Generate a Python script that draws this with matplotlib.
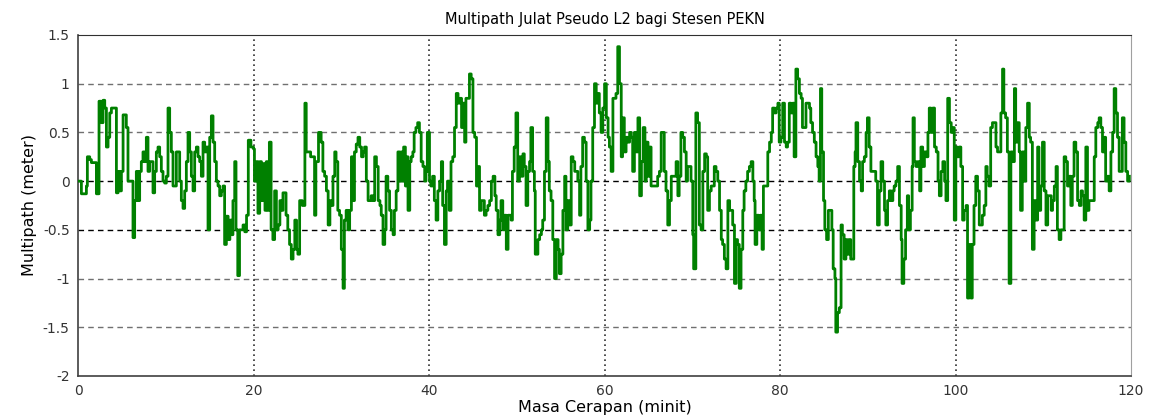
import numpy as np
import matplotlib
matplotlib.use("Agg")
import matplotlib.pyplot as plt
from matplotlib.ticker import FixedLocator, FuncFormatter

# epochs (minit) and multipath values (meter)
minit = [
    0.0, 0.38, 0.95, 1.06, 1.33, 1.52, 2.09, 2.39, 2.66, 2.85, 3.04, 3.23, 3.42, 3.61, 3.8, 4.37, 4.56, 4.75, 4.94,
    5.13, 5.5, 5.69, 6.26, 6.45, 6.64, 6.83, 7.02, 7.21, 7.4, 7.59, 7.78, 7.97, 8.16, 8.54, 8.73, 8.92, 9.11, 9.3,
    9.49, 9.68, 9.87, 10.06, 10.25, 10.44, 10.63, 10.82, 11.2, 11.58, 11.77, 11.96, 12.15, 12.34, 12.53, 12.72,
    12.91, 13.1, 13.29, 13.48, 13.67, 13.86, 14.05, 14.24, 14.43, 14.62, 14.81, 15.0, 15.19, 15.38, 15.57, 15.76,
    15.95, 16.14, 16.33, 16.52, 16.7, 16.9, 17.1, 17.3, 17.5, 17.65, 17.85, 18.0, 18.2, 18.4, 18.8, 19.0, 19.2,
    19.4, 19.7, 20.0, 20.1, 20.3, 20.5, 20.7, 20.9, 21.1, 21.3, 21.45, 21.6, 21.8, 22.0, 22.2, 22.4, 22.6, 22.8,
    23.0, 23.2, 23.35, 23.7, 23.9, 24.1, 24.3, 24.5, 24.7, 24.9, 25.05,
    25.25, 25.55, 25.85, 26.0, 26.5, 26.95, 27.1, 27.4, 27.7, 27.9, 28.1, 28.3, 28.5, 28.7, 28.85, 29.05, 29.25,
    29.4, 29.6, 29.8, 30.0, 30.2, 30.35, 30.55, 30.75, 30.95, 31.15, 31.3, 31.5, 31.7, 31.9, 32.1, 32.3, 32.5,
    32.65, 32.85, 33.05, 33.4, 33.6, 33.8, 34.0, 34.2, 34.4, 34.55, 34.75, 34.95, 35.1, 35.3, 35.5, 35.7, 35.9,
    36.05, 36.25, 36.45, 36.65,
    36.82, 37.0, 37.1, 37.3, 37.4, 37.6, 37.8, 37.96, 38.15, 38.3, 38.5, 38.7, 38.9, 39.1, 39.3, 39.5, 39.65, 39.8,
    40.05, 40.2, 40.4, 40.6, 40.8, 41.0, 41.2, 41.4, 41.55, 41.75, 41.95, 42.1, 42.3, 42.5, 42.7, 42.9, 43.1, 43.3,
    43.5, 43.7, 43.85, 44.05, 44.2, 44.4, 44.6, 44.8, 45.0, 45.2, 45.4, 45.6, 45.75, 45.95, 46.3, 46.5, 46.7, 46.9,
    47.1, 47.3, 47.5, 47.65, 47.85, 48.05, 48.2, 48.4, 48.6, 48.8, 49.0, 49.35,
    49.5, 49.7, 49.9, 50.1, 50.3, 50.5, 50.7, 50.85, 51.05, 51.25, 51.45, 51.6, 51.8, 52.0, 52.1, 52.4, 52.6, 52.8,
    52.95, 53.15, 53.35, 53.55, 53.7, 53.9, 54.1, 54.3, 54.5, 54.7, 54.85, 55.05, 55.25, 55.45, 55.6, 55.8, 56.0,
    56.2, 56.4, 56.6, 56.95, 57.15, 57.3, 57.5, 57.7, 57.9, 58.1, 58.3, 58.45, 58.65, 58.85, 59.05, 59.25, 59.4,
    59.6, 59.8, 60.0, 60.2, 60.4, 60.55, 60.75, 60.95, 61.3, 61.5, 61.7,
    61.9, 62.05, 62.25, 62.45, 62.65, 62.85, 63.05, 63.2, 63.4, 63.6, 63.8, 64.0, 64.2, 64.4, 64.6, 64.75, 64.95,
    65.15, 65.3, 66.05, 66.25, 66.45, 66.8, 67.0, 67.2, 67.4, 67.6, 68.15, 68.35, 68.5, 68.7, 68.9, 69.1, 69.3,
    69.45, 69.85, 70.05, 70.15, 70.4, 70.6, 70.8, 71.0, 71.2, 71.4, 71.6, 71.75, 71.95, 72.15, 72.5, 72.7, 72.9,
    73.1, 73.3, 73.45, 73.65, 73.85, 74.05, 74.25,
    74.6, 74.8, 75.0, 75.15, 75.35, 75.55, 75.75, 75.9, 76.1, 76.3, 76.5, 76.7, 76.9, 77.05, 77.15, 77.35, 77.55,
    77.75, 77.95, 78.1, 78.6, 78.8, 79.0, 79.15, 79.35, 79.55, 79.75, 79.9, 80.1, 80.3, 80.5, 80.7, 80.85, 81.05,
    81.25, 81.45, 81.6, 81.8, 82.0, 82.2, 82.4, 82.55, 82.75, 82.95, 83.15, 83.35, 83.5, 83.7, 83.9, 84.1, 84.3,
    84.45, 84.6, 84.75, 84.95, 85.1, 85.3, 85.5, 85.7, 85.9, 86.05, 86.25, 86.35, 86.55, 86.75,
    86.95, 87.1, 87.3, 87.5, 87.65, 87.85, 88.05, 88.4, 88.55, 88.65, 88.85, 89.05, 89.25, 89.4, 89.6, 89.8, 89.95,
    90.15, 90.35, 90.9, 91.1, 91.3, 91.5, 91.7, 91.9, 92.05, 92.25, 92.45, 92.65, 92.85, 93.0, 93.2, 93.4, 93.6,
    93.8, 93.9, 94.1, 94.3, 94.5, 94.65, 94.85, 95.05, 95.15, 95.3, 95.5, 95.7, 95.9, 96.05, 96.25, 96.45, 96.65,
    96.85, 97.0, 97.2, 97.4, 97.6, 97.8, 98.0, 98.15, 98.35, 98.55, 98.75, 98.9, 99.1, 99.3, 99.5, 99.7,
    99.85, 100.03, 100.2, 100.4, 100.6, 100.8, 100.98, 101.2, 101.36, 101.55, 101.75, 101.9, 102.1, 102.3, 102.5,
    102.7, 103.05, 103.26, 103.45, 103.6, 103.8, 104.0, 104.2, 104.6, 104.78, 105.16, 105.35, 105.5, 105.7, 105.9,
    106.1, 106.3, 106.5, 106.7, 106.85, 107.05, 107.25, 107.4, 107.6, 107.8, 108.0, 108.2, 108.4, 108.55, 108.75,
    108.95, 109.15, 109.35, 109.5, 109.7, 109.9, 110.1, 110.3, 110.5, 110.9, 111.05, 111.25, 111.45, 111.6, 111.8,
    112.0,
    112.37, 112.56, 112.75, 112.94, 113.13, 113.3, 113.5, 113.7, 113.9, 114.1, 114.3, 114.46, 114.65, 114.84,
    115.03, 115.2, 115.6, 115.8, 115.98, 116.2, 116.36, 116.55, 116.74, 116.93, 117.1, 117.3, 117.5, 117.7, 117.9,
    118.07, 118.26, 118.45, 118.64, 118.83, 119.0, 119.2, 119.4, 119.6, 119.8,
]
multipath = [
    0.0, -0.13, -0.05, 0.25, 0.22, 0.19, -0.13, 0.82, 0.6, 0.83, 0.75, 0.35, 0.45, 0.7, 0.75, -0.12, 0.1, -0.1, 0.1,
    0.68, 0.55, 0.0, -0.58, -0.2, 0.1, -0.2, 0.1, 0.2, 0.3, 0.2, 0.45, 0.1, 0.2, -0.12, 0.1, 0.3, 0.35, 0.25,
    0.1, 0.0, -0.02, 0.05, 0.75, 0.5, 0.3, -0.05, 0.3, 0.0, -0.2, -0.28, -0.1, 0.2, 0.5, 0.3,
    0.05, -0.1, 0.3, 0.35, 0.25, 0.2, 0.05, 0.4, 0.3, 0.35, -0.5, 0.45, 0.67, 0.4, 0.2, 0.0,
    -0.05, -0.15, -0.1, -0.05, -0.65, -0.36, -0.6, -0.4, -0.55, -0.2, 0.2, -0.5, -0.97, -0.5, -0.45, -0.52, -0.35,
    0.42, 0.35, 0.33, 0.0, 0.2, -0.33, 0.2, -0.2, 0.18, -0.3, 0.2, -0.3, 0.4, -0.5, -0.6, -0.1, -0.5, -0.45,
    -0.2, -0.3, -0.12, -0.35, -0.5, -0.65, -0.8, -0.7, -0.4, -0.7, -0.75,
    -0.2, -0.25, 0.8, 0.3, 0.25, -0.35, 0.2, 0.5, 0.4, 0.1, 0.05, -0.1, -0.45, -0.2, -0.25, 0.05, 0.3,
    0.2, -0.3, -0.35, -0.7, -1.1, -0.4, -0.3, -0.5, -0.3, 0.25, -0.2, 0.3, 0.38, 0.45, 0.35, 0.25, 0.3,
    0.35, 0.0, -0.2, -0.15, -0.2, 0.25, 0.15, -0.2, -0.25, -0.35, -0.65, -0.5, 0.05, -0.1, -0.3, -0.5, -0.55,
    -0.3, -0.1, 0.3, 0.0,
    0.3, 0.0, 0.35, -0.05, 0.25, -0.3, 0.2, 0.25, 0.3, 0.5, 0.55, 0.6, 0.5, 0.2, 0.15, 0.0, 0.1, 0.5,
    0.0, -0.05, 0.05, -0.2, -0.4, -0.1, 0.0, 0.2, -0.25, -0.65, -0.1, 0.0, -0.3, 0.2, 0.25, 0.55, 0.9, 0.8,
    0.85, 0.55, 0.8, 0.4, 0.85, 0.85, 1.1, 1.05, 0.5, 0.45, -0.05, 0.15, -0.3, -0.2, -0.35, -0.3, -0.25, -0.2,
    0.0, 0.05, -0.15, -0.3, -0.55, -0.4, -0.2, -0.5, -0.35, -0.7, -0.35, -0.4,
    0.1, 0.35, 0.7, 0.0, 0.25, 0.05, 0.28, 0.15, -0.25, 0.1, 0.2, 0.55, 0.1, -0.1, -0.75, -0.6, -0.55, -0.5,
    -0.4, 0.1, 0.65, 0.2, -0.1, -0.2, -0.6, -1.0, -0.6, -0.7, -0.95, -0.75, -0.3, 0.05, -0.5, -0.2, -0.45,
    0.25, 0.2, 0.1, 0.0, -0.35, 0.15, 0.45, 0.4, 0.0, -0.5, -0.4, 0.0, 0.55, 1.0, 0.8, 0.9, 0.7,
    0.5, 0.75, 1.0, 0.65, 0.45, 0.35, 0.1, 0.85, 0.9, 1.38, 1.0,
    0.25, 0.65, 0.3, 0.45, 0.4, 0.5, 0.45, 0.1, 0.5, 0.3, 0.65, -0.15, 0.2, 0.55, 0.0, 0.4, 0.05,
    0.35, -0.05, 0.05, 0.1, 0.5, 0.1, -0.1, -0.45, -0.2, 0.05, 0.2, -0.15, 0.05, 0.5, 0.45, 0.3, 0.0,
    0.15, 0.0, -0.55, -0.9, 0.7, 0.6, -0.45, -0.5, 0.1, 0.28, 0.25, -0.3, -0.1, -0.05, 0.15, 0.1, 0.0,
    -0.3, -0.6, -0.65, -0.8, -0.9, -0.2, -0.3,
    -0.45, -1.05, -0.6, -0.65, -1.1, -0.7, -0.3, -0.1, 0.0, 0.1, 0.15, 0.2, 0.0, -0.2, -0.65, -0.35, -0.5,
    -0.35, -0.7, -0.05, 0.3, 0.4, 0.5, 0.75, 0.7, 0.75, 0.8, 0.4, 0.45, 0.8, 0.4, 0.35, 0.4, 0.8,
    0.7, 0.8, 0.25, 1.15, 1.05, 0.9, 0.85, 0.55, 0.55, 0.8, 0.8, 0.75, 0.6, 0.5, 0.4, 0.25, 0.15,
    0.0, 0.95, 0.3, -0.2, -0.5, -0.6, -0.3, -0.3, -0.5, -0.9, -1.0, -1.55, -1.35, -1.3,
    -0.45, -0.55, -0.8, -0.6, -0.75, -0.6, -0.8, 0.15, 0.3, 0.6, 0.2, 0.0, -0.1, 0.2, 0.25, 0.5, 0.65,
    0.35, 0.1, 0.0, -0.45, -0.1, 0.2, 0.0, -0.3, -0.45, -0.2, -0.1, -0.2, -0.1, -0.05, 0.0, 0.15, -0.25,
    -0.6, -1.05, -0.8, -0.5, -0.15, -0.5, -0.3, 0.15, 0.65, 0.2, 0.15, 0.2, -0.1, 0.35, 0.15, 0.3, 0.25,
    0.5, 0.75, 0.5, 0.75, 0.35, 0.3, 0.0, -0.15, 0.1, 0.2, 0.0, -0.2, 0.85, 0.6, 0.5, 0.55,
    -0.4, 0.35, 0.25, 0.35, 0.15, -0.4, -0.3, -0.25, -1.2, -0.65, -1.2, -0.65, -0.25, 0.05, -0.1,
    -0.45, -0.35, -0.25, 0.15, 0.05, -0.05, 0.55, 0.6, 0.35, 0.3, 0.7, 1.15, 0.7, 0.65, 0.3,
    -1.05, 0.3, 0.2, 0.95, 0.4, 0.6, 0.3, -0.3, 0.3, 0.0, 0.55, 0.8, 0.45, 0.4, -0.7,
    -0.2, -0.4, 0.35, -0.3, -0.05, 0.4, -0.1, -0.45, -0.15, -0.3, -0.2, -0.05, 0.15, -0.5, -0.6,
    -0.5,
    0.25, 0.2, -0.05, 0.05, -0.25, 0.05, 0.4, 0.3, -0.2, -0.25, -0.1, -0.15, -0.4, 0.35,
    -0.3, -0.2, -0.2, 0.25, 0.55, 0.6, 0.65, 0.55, 0.3, 0.45, 0.0, 0.05, -0.1, 0.3, 0.5,
    0.95, 0.7, 0.45, 0.1, 0.1, 0.65, 0.4, 0.1, 0.0, 0.05,
]

x_ticks = [0, 20, 40, 60, 80, 100, 120]
y_ticks = [-2, -1.5, -1, -0.5, 0, 0.5, 1, 1.5]

fig = plt.figure(figsize=(11.53, 4.2), dpi=100)
ax = fig.add_axes([0.0677, 0.1048, 0.9133, 0.8119])

# horizontal dashed grid, 0 and -0.5 drawn darker
for yv in y_ticks[1:-1]:
    col = "black" if yv in (0, -0.5) else "#707070"
    ax.axhline(yv, color=col, lw=1.0, ls=(0, (4, 3)), zorder=1)
for xv in x_ticks[1:-1]:
    ax.axvline(xv, color="#303030", lw=1.2, ls=(0, (1, 2)), zorder=1)

ax.plot(minit, multipath, color="#008000", lw=2.0, drawstyle="steps-post", zorder=3)

ax.set_xlim(0, 120)
ax.set_ylim(-2, 1.5)
ax.xaxis.set_major_locator(FixedLocator(x_ticks))
ax.yaxis.set_major_locator(FixedLocator(y_ticks))
ax.yaxis.set_major_formatter(FuncFormatter(lambda v, p: f"{v:g}"))
ax.tick_params(length=0, labelsize=10, colors="#333333", pad=6)

for side in ["left", "bottom"]:
    ax.spines[side].set_color("#404040")
    ax.spines[side].set_linewidth(1.2)
ax.spines["top"].set_color("#303030")
ax.spines["right"].set_color("#a0a0a0")

ax.set_title("Multipath Julat Pseudo L2 bagi Stesen PEKN", fontsize=10.5, pad=8)
ax.set_xlabel("Masa Cerapan (minit)", fontsize=11.5, labelpad=1)
ax.set_ylabel("Multipath (meter)", fontsize=11.5, labelpad=4)

fig.savefig("out.png", dpi=100)
